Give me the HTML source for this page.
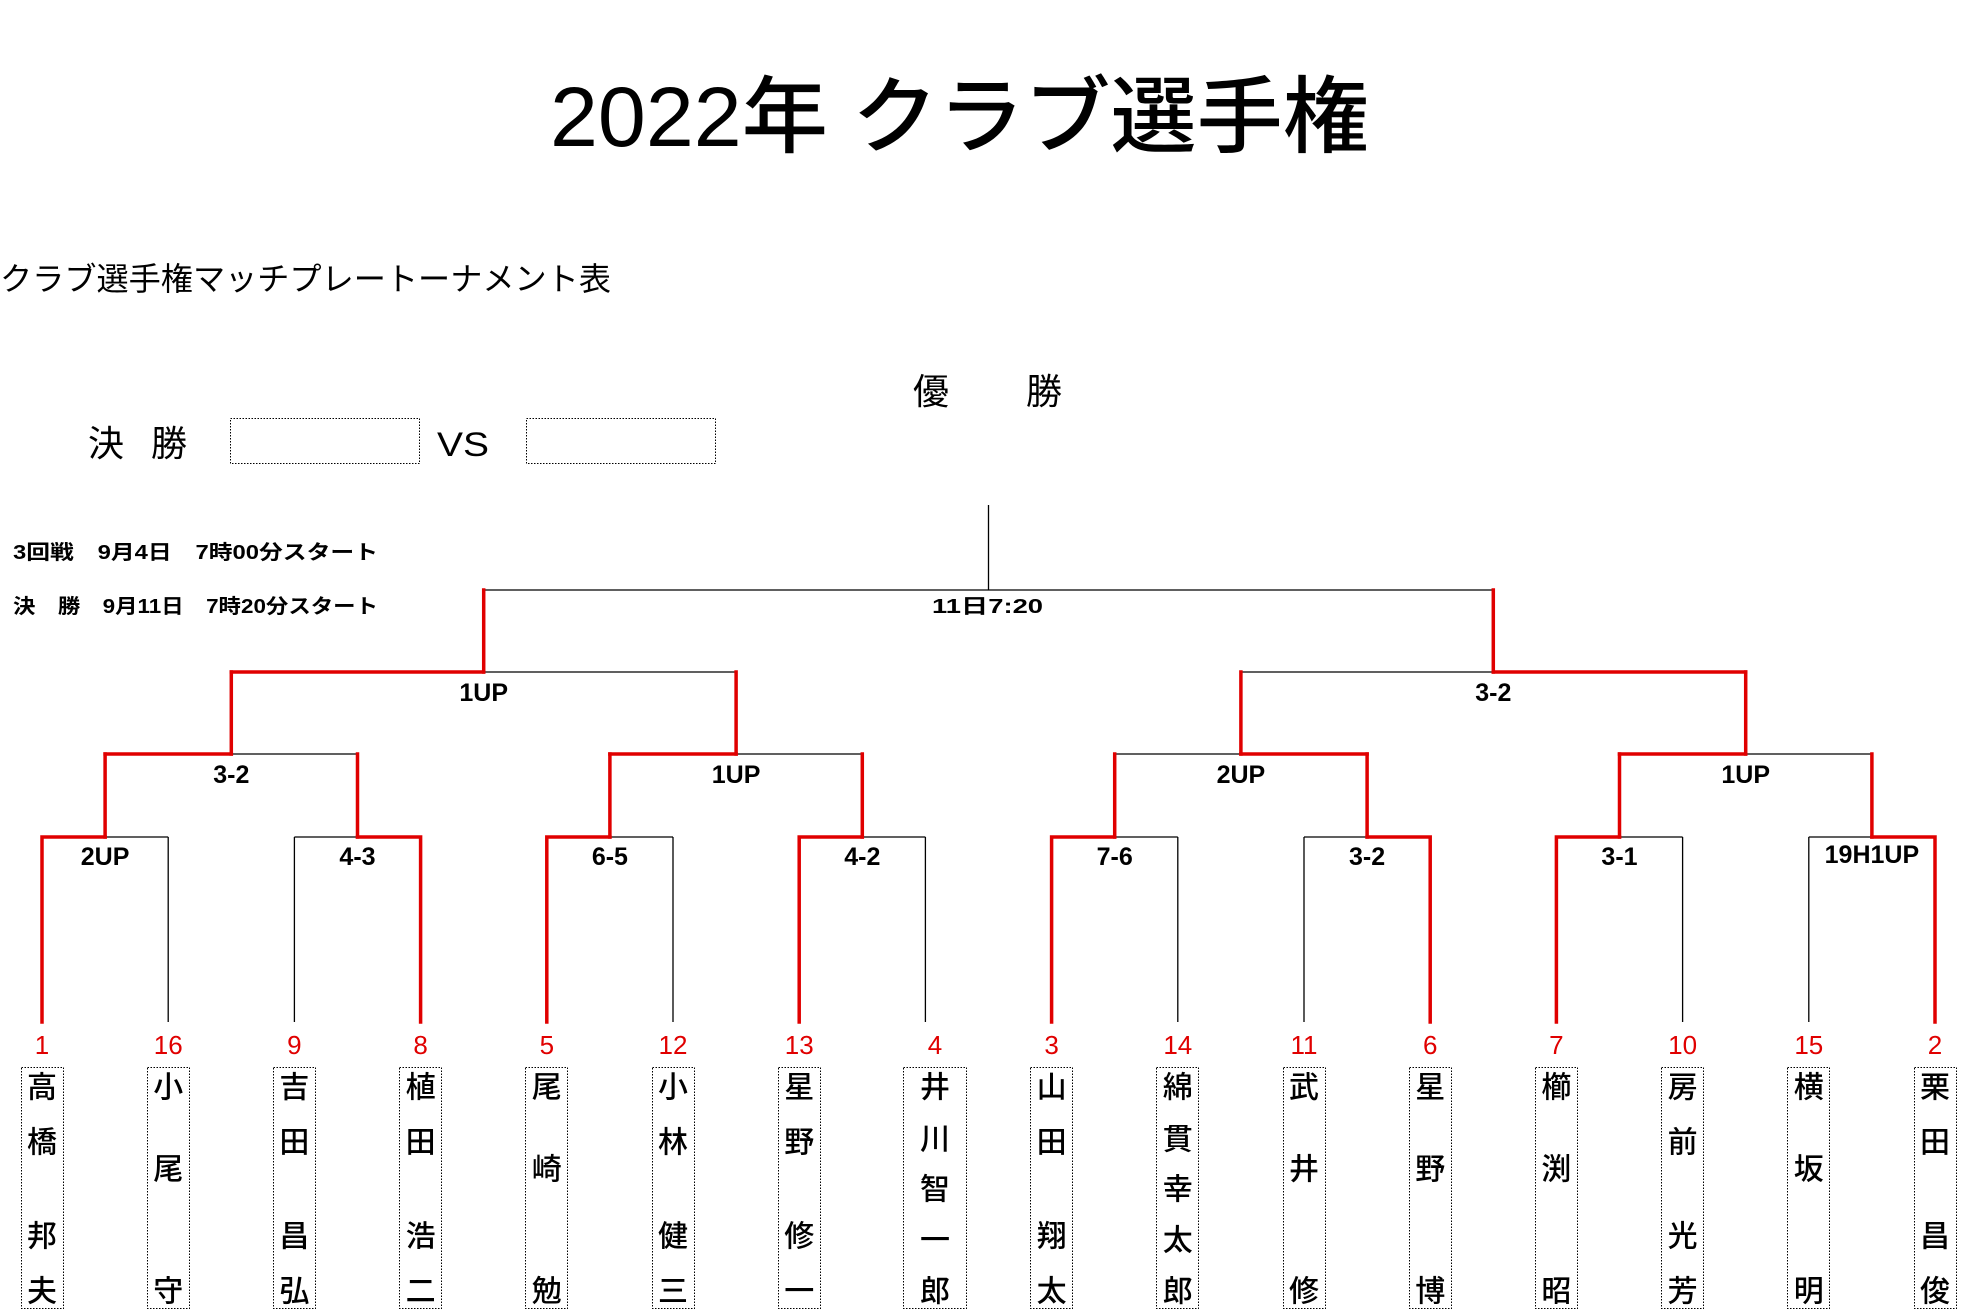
<!DOCTYPE html>
<html><head><meta charset="utf-8"><style>
html,body{margin:0;padding:0;background:#fff;}
svg{display:block;}
text{font-family:"Liberation Sans","Noto Sans CJK JP",sans-serif;}
.n{font-size:30px;font-weight:500;fill:#000;text-anchor:middle;dominant-baseline:central;}
.s{font-size:26px;fill:#e00000;text-anchor:middle;dominant-baseline:central;}
.l{font-size:25px;font-weight:bold;fill:#000;text-anchor:middle;dominant-baseline:central;}
.k{stroke:#000;stroke-width:1.3;fill:none;}
.r{stroke:#e00000;stroke-width:3.5;fill:none;stroke-linecap:square;}
.b{fill:none;stroke:#000;stroke-width:1;stroke-dasharray:1.5,1.5;}
</style></head><body>
<svg width="1975" height="1310" viewBox="0 0 1975 1310" xmlns="http://www.w3.org/2000/svg">
<rect width="1975" height="1310" fill="#fff"/>
<text x="550" y="146" font-size="84" font-weight="500" textLength="819" lengthAdjust="spacingAndGlyphs">2022年 クラブ選手権</text>
<text x="0" y="290" font-size="32" textLength="611" lengthAdjust="spacingAndGlyphs">クラブ選手権マッチプレートーナメント表</text>
<text x="913" y="404" font-size="36">優</text>
<text x="1026" y="404" font-size="36">勝</text>
<text x="88" y="456" font-size="36">決</text>
<text x="151" y="456" font-size="36">勝</text>
<rect x="230.5" y="418.5" width="189" height="45" class="b"/>
<rect x="526.5" y="418.5" width="189" height="45" class="b"/>
<text x="437" y="456" font-size="34" textLength="52" lengthAdjust="spacingAndGlyphs">VS</text>
<text x="13" y="559" font-size="20" font-weight="bold" textLength="365" lengthAdjust="spacingAndGlyphs">3回戦　9月4日　7時00分スタート</text>
<text x="13" y="613" font-size="20" font-weight="bold" textLength="365" lengthAdjust="spacingAndGlyphs">決　勝　9月11日　7時20分スタート</text>
<text x="932" y="613" font-size="20" font-weight="bold" textLength="111" lengthAdjust="spacingAndGlyphs">11日7:20</text>

<g class="k">
<path d="M988.5 505V590M483.7 590H1493.3"/>
<path d="M231.3 672H736.1M1240.9 672H1745.7"/>
<path d="M105.1 754H357.5M609.9 754H862.3M1114.7 754H1367.1M1619.5 754H1871.9"/>
<path d="M42 837H168.2M294.4 837H420.6M546.8 837H673M799.2 837H925.4M1051.6 837H1177.8M1304 837H1430.2M1556.4 837H1682.6M1808.8 837H1935"/>
<path d="M168.2 837V1022M294.4 837V1022M673 837V1022M925.4 837V1022M1177.8 837V1022M1304 837V1022M1682.6 837V1022M1808.8 837V1022"/>
</g>
<g class="r">
<path d="M483.7 590V672M1493.3 590V672"/>
<path d="M483.7 672H231.3M1493.3 672H1745.7"/>
<path d="M231.3 672V754M736.1 672V754M1240.9 672V754M1745.7 672V754"/>
<path d="M231.3 754H105.1M736.1 754H609.9M1240.9 754H1367.1M1745.7 754H1619.5"/>
<path d="M105.1 754V837M357.5 754V837M609.9 754V837M862.3 754V837M1114.7 754V837M1367.1 754V837M1619.5 754V837M1871.9 754V837"/>
<path d="M105.1 837H42V1022M357.5 837H420.6V1022M609.9 837H546.8V1022M862.3 837H799.2V1022M1114.7 837H1051.6V1022M1367.1 837H1430.2V1022M1619.5 837H1556.4V1022M1871.9 837H1935V1022"/>
</g>
<text class="l" x="483.7" y="693">1UP</text>
<text class="l" x="1493.3" y="693">3-2</text>
<text class="l" x="231.3" y="775">3-2</text>
<text class="l" x="736.1" y="775">1UP</text>
<text class="l" x="1240.9" y="775">2UP</text>
<text class="l" x="1745.7" y="775">1UP</text>
<text class="l" x="105.1" y="857">2UP</text>
<text class="l" x="357.5" y="857">4-3</text>
<text class="l" x="609.9" y="857">6-5</text>
<text class="l" x="862.3" y="857">4-2</text>
<text class="l" x="1114.7" y="857">7-6</text>
<text class="l" x="1367.1" y="857">3-2</text>
<text class="l" x="1619.5" y="857">3-1</text>
<text class="l" x="1871.9" y="855" font-size="22">19H1UP</text>

<text class="s" x="42" y="1045">1</text>
<text class="s" x="168.2" y="1045">16</text>
<text class="s" x="294.4" y="1045">9</text>
<text class="s" x="420.6" y="1045">8</text>
<text class="s" x="546.8" y="1045">5</text>
<text class="s" x="673" y="1045">12</text>
<text class="s" x="799.2" y="1045">13</text>
<text class="s" x="935" y="1045">4</text>
<text class="s" x="1051.6" y="1045">3</text>
<text class="s" x="1177.8" y="1045">14</text>
<text class="s" x="1304" y="1045">11</text>
<text class="s" x="1430.2" y="1045">6</text>
<text class="s" x="1556.4" y="1045">7</text>
<text class="s" x="1682.6" y="1045">10</text>
<text class="s" x="1808.8" y="1045">15</text>
<text class="s" x="1935" y="1045">2</text>

<rect class="b" x="21.5" y="1067.5" width="42" height="241"/>
<rect class="b" x="147.5" y="1067.5" width="42" height="241"/>
<rect class="b" x="273.5" y="1067.5" width="42" height="241"/>
<rect class="b" x="399.5" y="1067.5" width="42" height="241"/>
<rect class="b" x="525.5" y="1067.5" width="42" height="241"/>
<rect class="b" x="652.5" y="1067.5" width="42" height="241"/>
<rect class="b" x="778.5" y="1067.5" width="42" height="241"/>
<rect class="b" x="903.5" y="1067.5" width="63" height="241"/>
<rect class="b" x="1030.5" y="1067.5" width="42" height="241"/>
<rect class="b" x="1156.5" y="1067.5" width="42" height="241"/>
<rect class="b" x="1283.5" y="1067.5" width="42" height="241"/>
<rect class="b" x="1409.5" y="1067.5" width="42" height="241"/>
<rect class="b" x="1535.5" y="1067.5" width="42" height="241"/>
<rect class="b" x="1661.5" y="1067.5" width="42" height="241"/>
<rect class="b" x="1787.5" y="1067.5" width="42" height="241"/>
<rect class="b" x="1914.5" y="1067.5" width="42" height="241"/>

<g>
<text class="n" x="42" y="1088">高</text><text class="n" x="42" y="1143">橋</text><text class="n" x="42" y="1237">邦</text><text class="n" x="42" y="1292">夫</text>
<text class="n" x="168.2" y="1088">小</text><text class="n" x="168.2" y="1170">尾</text><text class="n" x="168.2" y="1292">守</text>
<text class="n" x="294.4" y="1088">吉</text><text class="n" x="294.4" y="1143">田</text><text class="n" x="294.4" y="1237">昌</text><text class="n" x="294.4" y="1292">弘</text>
<text class="n" x="420.6" y="1088">植</text><text class="n" x="420.6" y="1143">田</text><text class="n" x="420.6" y="1237">浩</text><text class="n" x="420.6" y="1292">二</text>
<text class="n" x="546.8" y="1088">尾</text><text class="n" x="546.8" y="1170">崎</text><text class="n" x="546.8" y="1292">勉</text>
<text class="n" x="673" y="1088">小</text><text class="n" x="673" y="1143">林</text><text class="n" x="673" y="1237">健</text><text class="n" x="673" y="1292">三</text>
<text class="n" x="799.2" y="1088">星</text><text class="n" x="799.2" y="1143">野</text><text class="n" x="799.2" y="1237">修</text><text class="n" x="799.2" y="1292">一</text>
<text class="n" x="935" y="1088">井</text><text class="n" x="935" y="1140">川</text><text class="n" x="935" y="1190">智</text><text class="n" x="935" y="1241">一</text><text class="n" x="935" y="1292">郎</text>
<text class="n" x="1051.6" y="1088">山</text><text class="n" x="1051.6" y="1143">田</text><text class="n" x="1051.6" y="1237">翔</text><text class="n" x="1051.6" y="1292">太</text>
<text class="n" x="1177.8" y="1088">綿</text><text class="n" x="1177.8" y="1140">貫</text><text class="n" x="1177.8" y="1190">幸</text><text class="n" x="1177.8" y="1241">太</text><text class="n" x="1177.8" y="1292">郎</text>
<text class="n" x="1304" y="1088">武</text><text class="n" x="1304" y="1170">井</text><text class="n" x="1304" y="1292">修</text>
<text class="n" x="1430.2" y="1088">星</text><text class="n" x="1430.2" y="1170">野</text><text class="n" x="1430.2" y="1292">博</text>
<text class="n" x="1556.4" y="1088">櫛</text><text class="n" x="1556.4" y="1170">渕</text><text class="n" x="1556.4" y="1292">昭</text>
<text class="n" x="1682.6" y="1088">房</text><text class="n" x="1682.6" y="1143">前</text><text class="n" x="1682.6" y="1237">光</text><text class="n" x="1682.6" y="1292">芳</text>
<text class="n" x="1808.8" y="1088">横</text><text class="n" x="1808.8" y="1170">坂</text><text class="n" x="1808.8" y="1292">明</text>
<text class="n" x="1935" y="1088">栗</text><text class="n" x="1935" y="1143">田</text><text class="n" x="1935" y="1237">昌</text><text class="n" x="1935" y="1292">俊</text>
</g>
</svg>
</body></html>
